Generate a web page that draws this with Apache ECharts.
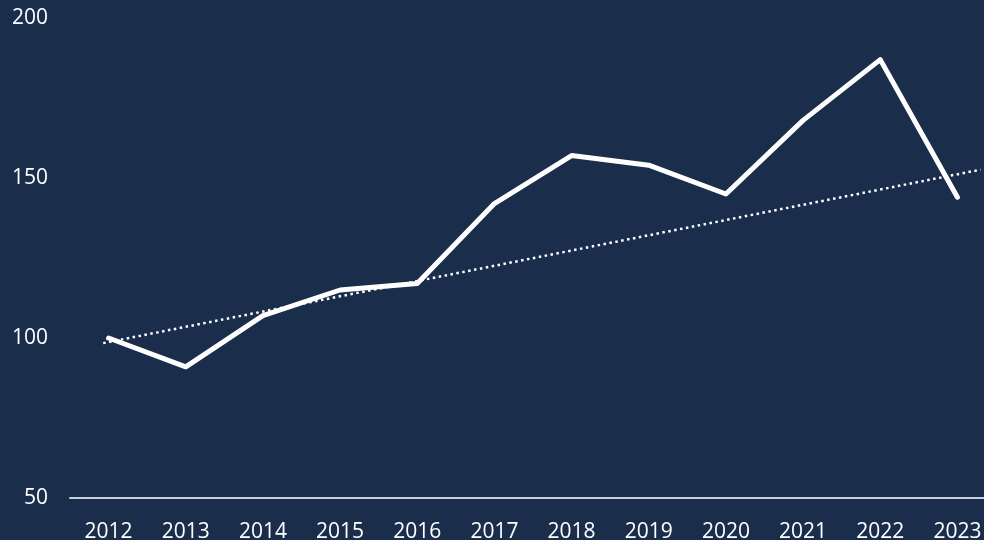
<!DOCTYPE html>
<html>
<head>
<meta charset="utf-8">
<script src="https://cdn.jsdelivr.net/npm/echarts@6/dist/echarts.min.js"></script>
<style>
  html, body { margin: 0; padding: 0; background: #1a2e4c; }
  #chart { width: 984px; height: 540px; }
</style>
</head>
<body>
<div id="chart"></div>
<script>
const years = ['2012', '2013', '2014', '2015', '2016', '2017', '2018', '2019', '2020', '2021', '2022', '2023']
const values = [100, 91, 107, 115, 117, 142, 157, 154, 145, 168, 187, 144]
// dotted trend line, two ends (x as category index)
const trendX = [-0.07, 11.3]
const trendY = [98.4, 152.6]
const yTicks = [50, 200, 50] // min, max, interval

const chart = echarts.init(document.getElementById('chart'))
chart.setOption({
  backgroundColor: '#1a2e4c',
  textStyle: { fontFamily: 'Open Sans' },
  grid: { left: 70, right: -12, top: 18, bottom: 42, outerBoundsMode: 'none', containLabel: false },
  xAxis: [
    {
      type: 'category',
      data: years,
      boundaryGap: true,
      axisLine: { lineStyle: { color: '#c9d1dc', width: 2 } },
      axisTick: { show: false },
      axisLabel: { color: '#ffffff', fontSize: 21, margin: 24 }
    },
    {
      type: 'value',
      show: false,
      min: -0.5,
      max: years.length - 0.5
    }
  ],
  yAxis: {
    type: 'value',
    min: yTicks[0],
    max: yTicks[1],
    interval: yTicks[2],
    axisLine: { show: false },
    axisTick: { show: false },
    splitLine: { show: false },
    axisLabel: { color: '#ffffff', fontSize: 21, margin: 22 }
  },
  series: [
    {
      type: 'line',
      xAxisIndex: 1,
      data: trendX.map((x, i) => [x, trendY[i]]),
      showSymbol: false,
      silent: true,
      lineStyle: { color: '#ffffff', width: 2.5, type: [2.5, 3.5] }
    },
    {
      type: 'line',
      data: values,
      showSymbol: false,
      lineStyle: { color: '#ffffff', width: 5, cap: 'round', join: 'round' }
    }
  ]
})
</script>
</body>
</html>
